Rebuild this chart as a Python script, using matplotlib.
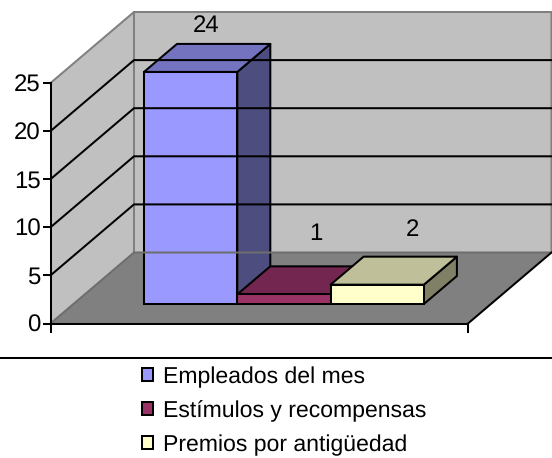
import matplotlib
matplotlib.use('Agg')
import matplotlib.pyplot as plt
from matplotlib.patches import Polygon, Rectangle

plt.rcParams['font.family'] = ['Liberation Sans', 'DejaVu Sans']
plt.rcParams['text.hinting'] = 'none'
plt.rcParams['text.hinting_factor'] = 1

# datos
categorias = ['Empleados del mes', 'Estímulos y recompensas', 'Premios por antigüedad']
valores = [24, 1, 2]
ticks_y = [0, 5, 10, 15, 20, 25]

# colores de cada barra: frente, arriba, lado
frente = ['#9999FF', '#993366', '#FFFFCC']
arriba = ['#7373BF', '#732650', '#BFBF99']
lado = ['#4D4D80', '#4D1A33', '#808066']

# geometria en pixeles de la figura
X0, X1, Y0 = 50.5, 468, 323.5
DX_PARED, DY_PARED = 83.5, -71
ESCALA = 9.62
ESCALA_BARRA = 9.67
BARRA_X0, BARRA_ANCHO, BARRA_BASE = 144, 93.3, 304
DX_BARRA, DY_BARRA = 33, -28
LW = 1.45

def y_eje(v):
    return Y0 - v * ESCALA

def y_barra(v):
    return BARRA_BASE - v * ESCALA_BARRA

fig = plt.figure(figsize=(5.52, 4.58), dpi=100)
ax = fig.add_axes([0, 0, 1, 1])
ax.set_xlim(0, 552)
ax.set_ylim(458, 0)
ax.axis('off')

arriba_y = y_eje(ticks_y[-1])

# paredes y piso
ax.add_patch(Polygon([(X0, Y0), (X0, arriba_y), (X0 + DX_PARED, arriba_y + DY_PARED),
                      (X0 + DX_PARED, Y0 + DY_PARED)], fc='#C0C0C0', ec='none'))
ax.add_patch(Rectangle((X0 + DX_PARED, arriba_y + DY_PARED), X1 - X0,
                       y_eje(0) - arriba_y, fc='#C0C0C0', ec='none'))
ax.add_patch(Polygon([(X0, Y0), (X1, Y0), (X1 + DX_PARED, Y0 + DY_PARED),
                      (X0 + DX_PARED, Y0 + DY_PARED)], fc='#808080', ec='none'))

gris = '#808080'
ax.plot([X0, X0 + DX_PARED, X1 + DX_PARED, X1 + DX_PARED], [arriba_y, arriba_y + DY_PARED, arriba_y + DY_PARED, Y0 + DY_PARED],
        color=gris, lw=LW, solid_joinstyle='miter')
ax.plot([X0 + DX_PARED, X0 + DX_PARED], [arriba_y + DY_PARED, Y0 + DY_PARED], color=gris, lw=LW)
ax.plot([X0, X0 + DX_PARED, X1 + DX_PARED], [Y0, Y0 + DY_PARED, Y0 + DY_PARED], color='#6E6E6E', lw=LW)

# lineas de la cuadricula
for t in ticks_y[1:-1]:
    y = y_eje(t)
    ax.plot([X0, X0 + DX_PARED, X1 + DX_PARED], [y, y + DY_PARED, y + DY_PARED], color='black', lw=LW)

# ejes
ax.plot([X0, X0], [arriba_y, Y0 + 8], color='black', lw=LW)
ax.plot([X0 - 7, X1], [Y0, Y0], color='black', lw=LW)
ax.plot([X1, X1], [Y0, Y0 + 8], color='black', lw=LW)
ax.plot([X1, X1 + DX_PARED], [Y0, Y0 + DY_PARED], color='black', lw=LW)
for t in ticks_y:
    y = y_eje(t)
    ax.plot([X0 - 7, X0], [y, y], color='black', lw=LW)
    ax.text(X0 - 10, y + 8.5, str(t), ha='right', va='baseline', fontsize=17, color='black')

# barras
for i, v in enumerate(valores):
    x0 = BARRA_X0 + i * BARRA_ANCHO
    x1 = x0 + BARRA_ANCHO
    yb = BARRA_BASE
    yt = y_barra(v)
    ax.add_patch(Polygon([(x1, yb), (x1 + DX_BARRA, yb + DY_BARRA), (x1 + DX_BARRA, yt + DY_BARRA), (x1, yt)],
                         fc=lado[i], ec='black', lw=LW, joinstyle='round'))
    ax.add_patch(Polygon([(x0, yt), (x1, yt), (x1 + DX_BARRA, yt + DY_BARRA), (x0 + DX_BARRA, yt + DY_BARRA)],
                         fc=arriba[i], ec='black', lw=LW, joinstyle='round'))
    ax.add_patch(Rectangle((x0, yt), BARRA_ANCHO, yb - yt, fc=frente[i], ec='black', lw=LW))

# etiquetas de datos
etiqueta_x = [206, 316, 412]
etiqueta_y = [32.5, 240, 236]
for v, x, y in zip(valores, etiqueta_x, etiqueta_y):
    ax.text(x, y, str(v), ha='center', va='baseline', fontsize=17, color='black')

# leyenda
ax.plot([0, 552], [358, 358], color='black', lw=LW)
leyenda_y = [383, 417.5, 451.5]
for nombre, color, y in zip(categorias, frente, leyenda_y):
    ax.add_patch(Rectangle((142, y - 15.5), 11, 13, fc=color, ec='black', lw=LW))
    ax.text(163, y, nombre, ha='left', va='baseline', fontsize=16.3, color='black')

fig.savefig('out.png', dpi=100)
